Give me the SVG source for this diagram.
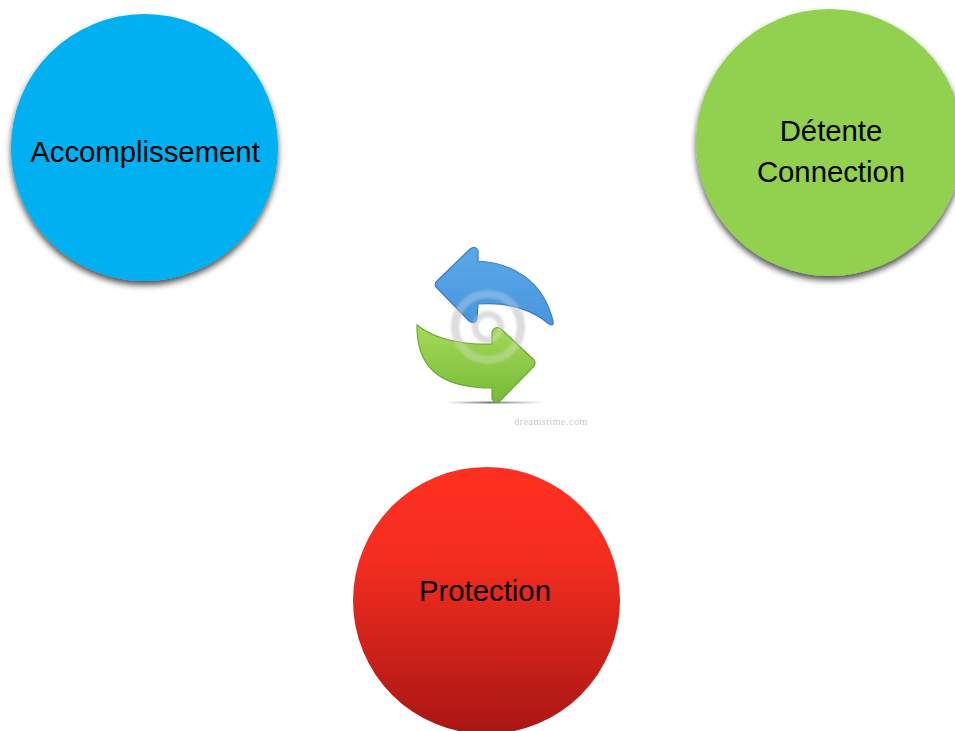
<svg xmlns="http://www.w3.org/2000/svg" width="955" height="731" viewBox="0 0 955 731">
<style>
.lbl{font-family:"Liberation Sans",Arial,sans-serif;font-size:29.3px;fill:#000;text-anchor:middle}
.c{filter:url(#sh)}
</style>
<defs>
<filter id="sh" x="-15%" y="-15%" width="130%" height="130%"><feGaussianBlur in="SourceAlpha" stdDeviation="3"/><feOffset dx="0" dy="4"/><feComponentTransfer><feFuncA type="linear" slope="0.7"/></feComponentTransfer><feMerge><feMergeNode/><feMergeNode in="SourceGraphic"/></feMerge></filter>
<linearGradient id="red" x1="0" y1="0" x2="0" y2="1"><stop offset="0" stop-color="#ff3021"/><stop offset="0.35" stop-color="#f42d20"/><stop offset="1" stop-color="#a81614"/></linearGradient>
<linearGradient id="bl" x1="0" y1="0" x2="0" y2="1"><stop offset="0" stop-color="#5aa9ea"/><stop offset="1" stop-color="#4a95dc"/></linearGradient>
<linearGradient id="gr" x1="0" y1="0" x2="0" y2="1"><stop offset="0" stop-color="#a5d95a"/><stop offset="1" stop-color="#76bb36"/></linearGradient>
<linearGradient id="gnd" x1="0" y1="0" x2="1" y2="0"><stop offset="0" stop-color="#888" stop-opacity="0"/><stop offset="0.45" stop-color="#777"/><stop offset="1" stop-color="#888" stop-opacity="0"/></linearGradient>
<filter id="soft" x="-5%" y="-5%" width="110%" height="110%"><feGaussianBlur stdDeviation="0.6"/></filter>
<filter id="wm" x="-10%" y="-10%" width="120%" height="120%"><feGaussianBlur stdDeviation="1"/></filter>
</defs>
<rect width="955" height="731" fill="#fff"/>
<g id="node-accomplissement"><circle class="c" cx="144.5" cy="147.5" r="133.5" fill="#00b0f0"/><text class="lbl" x="145" y="162">Accomplissement</text></g>
<g id="node-detente"><circle class="c" cx="829.5" cy="142.5" r="133.5" fill="#92d050"/><text class="lbl" x="831" y="141">Détente</text><text class="lbl" x="831" y="182">Connection</text></g>
<g id="node-protection"><circle cx="486.5" cy="600.5" r="133.5" fill="url(#red)"/><text class="lbl" x="485" y="601">Protection</text></g>
<g id="cycle-icon" filter="url(#soft)">
<rect x="446" y="401.5" width="98" height="2" fill="url(#gnd)"/>
<g fill="none" stroke="#c8c8c8" stroke-opacity="0.7" filter="url(#wm)"><circle cx="488" cy="327" r="33" stroke-width="8"/><circle cx="488" cy="327" r="13" stroke-width="6"/></g>
<path d="M436 282Q434 285 437 288L469 321Q475 325 477 319L478 304C505 302 530 308 549 324Q554 327 553 321C543 280 512 263 478 261L478 251Q476 245 470 249Z" fill="url(#bl)" stroke="#3c7cc4" stroke-width="1.2"/>
<path d="M417 325C435 340 465 345 492 344L492 332Q495 325 501 329L534 360Q536 363 534 366L501 400Q495 405 492 399L492 388C450 388 418 375 417 329Z" fill="url(#gr)" stroke="#69a834" stroke-width="1.2"/>
<g fill="none" stroke="#e8e8e8" stroke-opacity="0.3" filter="url(#wm)"><circle cx="488" cy="327" r="33" stroke-width="8"/><circle cx="488" cy="327" r="13" stroke-width="6"/></g>
<text x="551" y="425" font-family="'Liberation Serif',serif" font-size="10" letter-spacing="0.5" fill="#c8c8c8" text-anchor="middle">dreamstime.com</text>
</g>
<g id="connectors"/>
</svg>
